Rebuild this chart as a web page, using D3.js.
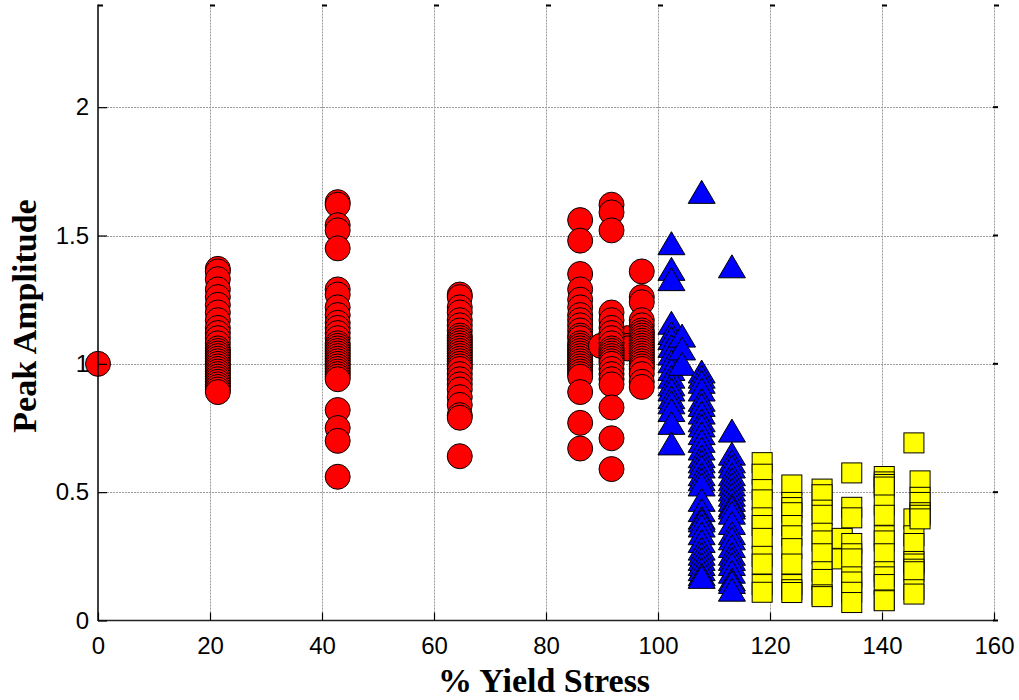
<!DOCTYPE html>
<html>
<head>
<meta charset="utf-8">
<script src="https://cdn.jsdelivr.net/npm/d3@7"></script>
<style>
  html, body { margin: 0; padding: 0; background: #fff; }
  svg { display: block; }
</style>
</head>
<body>
<svg id="chart" width="1019" height="700"></svg>
<script>
// Peak amplitude versus % yield stress

const xTicks = [0, 20, 40, 60, 80, 100, 120, 140, 160];
const yTicks = [0, 0.5, 1, 1.5, 2];

// Elastic range (circles)
const circleStress = [0, 21.4, 42.8, 64.6, 86.1, 89.8, 94.5, 91.7, 97.1];
const circleAmp = [
  [1.0],
  [1.37, 1.36, 1.33, 1.29, 1.26, 1.23, 1.20, 1.17, 1.14, 1.12, 1.10, 1.08, 1.06, 1.05, 1.04,
   1.03, 1.02, 1.01, 1.00, 0.99, 0.98, 0.97, 0.96, 0.95, 0.94, 0.93, 0.92, 0.91, 0.90, 0.89],
  [1.63, 1.62, 1.54, 1.52, 1.45, 1.29, 1.27, 1.22, 1.19, 1.16, 1.14, 1.12, 1.10, 1.08, 1.07, 1.06,
   1.05, 1.04, 1.03, 1.02, 1.01, 1.00, 0.99, 0.98, 0.97, 0.96, 0.95, 0.94, 0.82, 0.75, 0.70, 0.56],
  [1.27, 1.26, 1.22, 1.20, 1.17, 1.15, 1.13, 1.11, 1.10, 1.09, 1.08, 1.07, 1.06, 1.05, 1.04, 1.03,
   1.02, 1.01, 1.00, 0.99, 0.98, 0.96, 0.94, 0.92, 0.90, 0.87, 0.84, 0.80, 0.79, 0.64],
  [1.56, 1.48, 1.35, 1.29, 1.25, 1.22, 1.19, 1.17, 1.15, 1.13, 1.11, 1.10, 1.08, 1.07, 1.06, 1.05,
   1.04, 1.03, 1.02, 1.01, 1.00, 0.99, 0.98, 0.97, 0.96, 0.95, 0.89, 0.77, 0.67],
  [1.07],
  [1.10, 1.07, 1.06],
  [1.62, 1.59, 1.52, 1.20, 1.17, 1.14, 1.12, 1.10, 1.08, 1.06, 1.05, 1.04, 1.03, 1.02, 1.01, 1.00,
   0.98, 0.96, 0.94, 0.92, 0.83, 0.71, 0.59],
  [1.36, 1.26, 1.24, 1.17, 1.15, 1.13, 1.12, 1.11, 1.10, 1.09, 1.08, 1.07, 1.06, 1.05, 1.04, 1.03,
   1.02, 1.01, 1.00, 0.99, 0.98, 0.96, 0.93, 0.91]
];

// Yielding range (triangles)
const triangleStress = [102.4, 104.3, 107.8, 113.2];
const triangleAmp = [
  [1.47, 1.37, 1.33, 1.16, 1.12, 1.10, 1.07, 1.04, 1.01, 0.98, 0.95, 0.92, 0.90, 0.87, 0.85, 0.82, 0.77, 0.69],
  [1.11, 1.06, 1.00],
  [1.67, 0.97, 0.95, 0.93, 0.90, 0.86, 0.84, 0.81, 0.78, 0.76, 0.73, 0.70, 0.67, 0.64, 0.62, 0.60, 0.57,
   0.55, 0.53, 0.47, 0.43, 0.40, 0.39, 0.37, 0.34, 0.31, 0.28, 0.26, 0.24, 0.22, 0.20, 0.18, 0.17],
  [1.38, 0.74, 0.65, 0.62, 0.60, 0.57, 0.55, 0.53, 0.51, 0.49, 0.47, 0.45, 0.44, 0.42, 0.38, 0.34,
   0.32, 0.29, 0.26, 0.24, 0.22, 0.19, 0.16, 0.15, 0.12]
];

// Post-yield range (squares)
const squareStress = [118.6, 123.9, 129.3, 132.9, 134.6, 140.4, 145.7, 146.8];
const squareAmp = [
  [0.615, 0.57, 0.51, 0.47, 0.40, 0.37, 0.32, 0.25, 0.22, 0.14, 0.11],
  [0.528, 0.46, 0.44, 0.42, 0.37, 0.33, 0.28, 0.22, 0.14, 0.12, 0.109],
  [0.512, 0.49, 0.43, 0.41, 0.34, 0.31, 0.26, 0.19, 0.16, 0.10, 0.093],
  [0.32, 0.24],
  [0.575, 0.441, 0.40, 0.30, 0.26, 0.24, 0.17, 0.15, 0.11, 0.07],
  [0.561, 0.54, 0.53, 0.52, 0.45, 0.41, 0.33, 0.31, 0.26, 0.19, 0.17, 0.14, 0.08, 0.077],
  [0.692, 0.396, 0.33, 0.30, 0.23, 0.22, 0.20, 0.19, 0.12, 0.103],
  [0.544, 0.48, 0.46, 0.42, 0.41, 0.396]
];

const svg = d3.select("#chart");
const plotLeft = 98, plotRight = 994, plotTop = 4.5, plotBottom = 620.5;

const x = d3.scaleLinear().domain([0, 160]).range([plotLeft, plotRight]);
const y = d3.scaleLinear().domain([0, 2.4]).range([plotBottom, plotTop]);

svg.append("rect").attr("width", 1019).attr("height", 700).attr("fill", "#fff");

// dotted grid
const grid = svg.append("g").attr("stroke", "#9a9a9a").attr("stroke-width", 1)
  .attr("stroke-dasharray", "2,1");
grid.selectAll("line.v").data(xTicks.slice(1)).join("line")
  .attr("class", "v")
  .attr("x1", d => x(d) + 0.5).attr("x2", d => x(d) + 0.5)
  .attr("y1", plotTop).attr("y2", plotBottom);
grid.selectAll("line.h").data(yTicks.slice(1)).join("line")
  .attr("class", "h")
  .attr("x1", plotLeft).attr("x2", plotRight)
  .attr("y1", d => Math.round(y(d)) + 0.5).attr("y2", d => Math.round(y(d)) + 0.5);

// flatten columns into points
const toPoints = (xs, ys) => xs.flatMap((s, i) => ys[i].map(a => ({ s, a })));

const circles = toPoints(circleStress, circleAmp);
const triangles = toPoints(triangleStress, triangleAmp);
const squares = toPoints(squareStress, squareAmp);

const plot = svg.append("g");

plot.selectAll("circle.pt").data(circles).join("circle")
  .attr("class", "pt")
  .attr("cx", d => x(d.s)).attr("cy", d => y(d.a)).attr("r", 12.5)
  .attr("fill", "#ff0000").attr("stroke", "#000").attr("stroke-width", 1);

const tw = 27, th = 23;
const triPath = `M0,${-th / 2}L${tw / 2},${th / 2}L${-tw / 2},${th / 2}Z`;
plot.selectAll("path.tri").data(triangles).join("path")
  .attr("class", "tri")
  .attr("transform", d => `translate(${x(d.s)},${y(d.a)})`)
  .attr("d", triPath)
  .attr("fill", "#0000ff").attr("stroke", "#000").attr("stroke-width", 1);

const sq = 20;
plot.selectAll("rect.sq").data(squares).join("rect")
  .attr("class", "sq")
  .attr("x", d => x(d.s) - sq / 2).attr("y", d => y(d.a) - sq / 2)
  .attr("width", sq).attr("height", sq)
  .attr("fill", "#ffff00").attr("stroke", "#000").attr("stroke-width", 1);

// axes
const axes = svg.append("g");
axes.append("line").attr("x1", plotLeft).attr("x2", plotLeft).attr("y1", plotTop).attr("y2", plotBottom + 0.5)
  .attr("stroke", "#000").attr("stroke-width", 1.5);
axes.append("line").attr("x1", plotLeft).attr("x2", plotRight).attr("y1", plotBottom).attr("y2", plotBottom)
  .attr("stroke", "#222").attr("stroke-width", 1.5);

const xAxis = d3.axisBottom(x).tickValues(xTicks).tickSizeInner(-8).tickSizeOuter(0).tickPadding(16)
  .tickFormat(d3.format("d"));
const gx = svg.append("g").attr("transform", `translate(0,${plotBottom})`).call(xAxis);
gx.select(".domain").remove();
gx.selectAll(".tick line").attr("stroke", "#000").attr("stroke-width", 1.2);
gx.selectAll(".tick text").attr("font-family", "Liberation Sans, Arial, sans-serif")
  .attr("font-size", 24).attr("fill", "#000");

const yAxis = d3.axisLeft(y).tickValues(yTicks).tickSizeInner(-9).tickSizeOuter(0).tickPadding(9)
  .tickFormat(d => String(d));
const gy = svg.append("g").attr("transform", `translate(${plotLeft},0)`).call(yAxis);
gy.select(".domain").remove();
gy.selectAll(".tick line").attr("stroke", "#000").attr("stroke-width", 1.2);
gy.selectAll(".tick text").attr("font-family", "Liberation Sans, Arial, sans-serif")
  .attr("font-size", 24).attr("fill", "#000");

// short tick marks along the top and right edges
svg.append("g").selectAll("rect").data(xTicks).join("rect")
  .attr("x", d => x(d)).attr("y", plotTop).attr("width", 5).attr("height", 2).attr("fill", "#000");
svg.append("g").selectAll("rect").data(yTicks).join("rect")
  .attr("x", plotRight - 1).attr("y", d => y(d) - 1).attr("width", 5).attr("height", 2).attr("fill", "#000");

// axis titles
svg.append("text")
  .attr("x", 544).attr("y", 692)
  .attr("text-anchor", "middle")
  .attr("font-family", "Liberation Serif, Times New Roman, serif")
  .attr("font-weight", "bold").attr("font-size", 34)
  .text("% Yield Stress");

svg.append("text")
  .attr("transform", `translate(36,316) rotate(-90)`)
  .attr("text-anchor", "middle")
  .attr("font-family", "Liberation Serif, Times New Roman, serif")
  .attr("font-weight", "bold").attr("font-size", 34)
  .text("Peak Amplitude");
</script>
</body>
</html>
